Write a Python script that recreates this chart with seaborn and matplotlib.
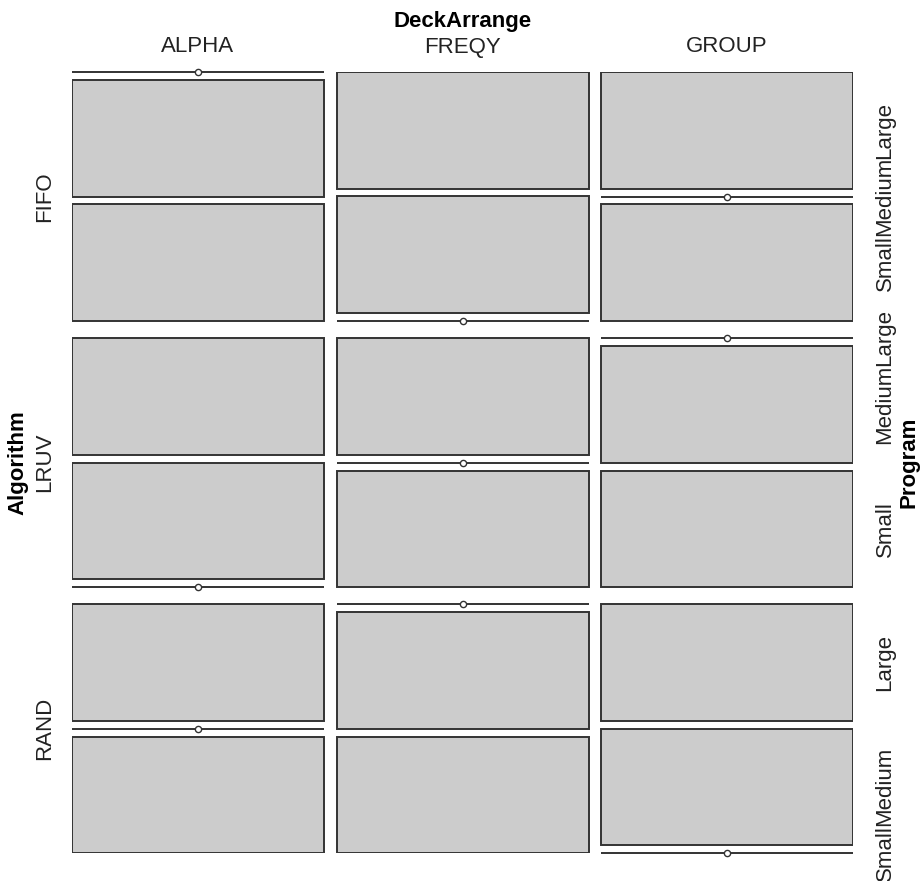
import numpy as np
import pandas as pd
import matplotlib
matplotlib.use("Agg")
import matplotlib.pyplot as plt
import seaborn as sns

# Factor levels
decks = ["ALPHA", "FREQY", "GROUP"]
algorithms = ["FIFO", "LRUV", "RAND"]
programs = ["Small", "Medium", "Large"]   # stacked bottom -> top

# Cell counts, ordered (Algorithm, DeckArrange):
# FIFO-ALPHA, FIFO-FREQY, FIFO-GROUP, LRUV-ALPHA, ..., RAND-GROUP
small_counts = [1, 0, 1, 0, 1, 1, 1, 1, 0]
medium_counts = [1, 1, 0, 1, 0, 1, 0, 1, 1]
large_counts = [0, 1, 1, 1, 1, 0, 1, 0, 1]

rows = []
i = 0
for alg in algorithms:
    for deck in decks:
        for prog, arr in zip(programs, [small_counts, medium_counts, large_counts]):
            rows.append({"Algorithm": alg, "DeckArrange": deck,
                         "Program": prog, "Freq": arr[i]})
        i += 1
df = pd.DataFrame(rows)

sns.set_theme(style="white")
plt.rcParams["font.family"] = ["Liberation Sans", "DejaVu Sans"]

W, H = 921, 881
fig = plt.figure(figsize=(W / 100, H / 100), dpi=100)
ax = fig.add_axes([72 / W, (H - 853) / H, 781 / W, 781 / H])

# Spacing of the mosaic tiles (in axes units)
gap_col = 12.5 / 781
gap_row = 17.0 / 781
gap_prog = 8.0 / 781
col_w = (1 - 2 * gap_col) / len(decks)
blk_h = (1 - 2 * gap_row) / len(algorithms)

fill = "#CCCCCC"
edge = "#333333"

zero_pts = []
label_pos = {}
for a_idx, alg in enumerate(algorithms):
    blk_top = 1 - a_idx * (blk_h + gap_row)
    blk_bot = blk_top - blk_h
    for d_idx, deck in enumerate(decks):
        x0 = d_idx * (col_w + gap_col)
        sub = df[(df.Algorithm == alg) & (df.DeckArrange == deck)].set_index("Program")
        total = sub["Freq"].sum()
        content = blk_h - gap_prog * (len(programs) - 1)
        y = blk_bot
        for p_idx, prog in enumerate(programs):
            h = content * sub.loc[prog, "Freq"] / total
            if h > 0:
                ax.bar(x0, h, width=col_w, bottom=y, align="edge",
                       color=fill, edgecolor=edge, linewidth=1.4)
            else:
                ax.hlines(y, x0, x0 + col_w, color=edge, linewidth=1.4,
                          clip_on=False)
                zero_pts.append({"x": x0 + col_w / 2, "y": y})
            if d_idx == len(decks) - 1:
                label_pos[(alg, prog)] = y + h / 2
            y += h + gap_prog

# Empty cells: a small open circle on the collapsed tile
zdf = pd.DataFrame(zero_pts)
sns.scatterplot(data=zdf, x="x", y="y", ax=ax, s=20, marker="o",
                facecolor="white", edgecolor=edge, linewidth=1.0,
                zorder=5, clip_on=False, legend=False)
ax.set_xlim(0, 1)
ax.set_ylim(0, 1)
ax.axis("off")

fs = 16
px = 1 / 781
# Column labels (DeckArrange)
for d_idx, deck in enumerate(decks):
    xc = d_idx * (col_w + gap_col) + col_w / 2
    ax.text(xc, 1 + 25 * px, deck, ha="center", va="center", fontsize=fs,
            color="#222222")
ax.text(0.5, 1 + 51 * px, "DeckArrange", ha="center", va="center",
        fontsize=fs, fontweight="bold", color="black")

# Row labels (Algorithm)
for a_idx, alg in enumerate(algorithms):
    yc = 1 - a_idx * (blk_h + gap_row) - blk_h / 2
    ax.text(-27 * px, yc, alg, ha="center", va="center", rotation=90,
            fontsize=fs, color="#222222")
ax.text(-54 * px, 0.5, "Algorithm", ha="center", va="center", rotation=90,
        fontsize=fs, fontweight="bold", color="black")

# Program labels along the right edge
for (alg, prog), yc in label_pos.items():
    ax.text(1 + 32 * px, yc, prog, ha="center", va="center", rotation=90,
            fontsize=fs, color="#222222")
ax.text(1 + 56 * px, 0.5, "Program", ha="center", va="center", rotation=90,
        fontsize=fs, fontweight="bold", color="black")

fig.savefig("out.png", dpi=100, facecolor="white")
